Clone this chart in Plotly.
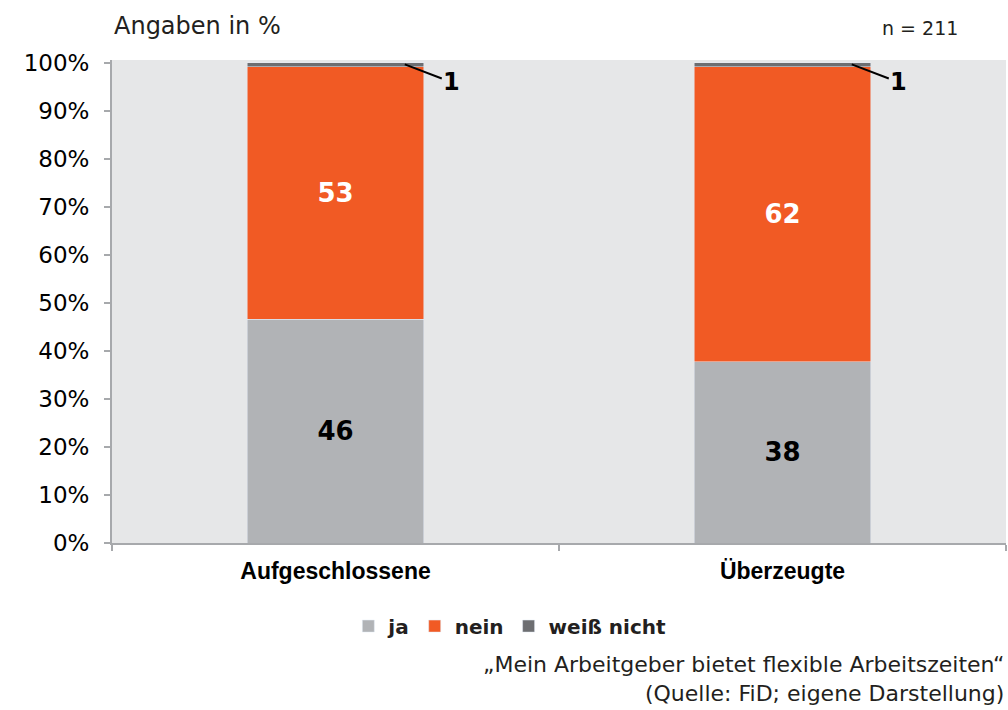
import plotly.graph_objects as go

categories = ["Aufgeschlossene", "Überzeugte"]
ja = [46.6, 37.8]
nein = [52.6, 61.4]
weiss_nicht = [0.8, 0.8]
ja_labels = ["46", "38"]
nein_labels = ["53", "62"]
weiss_labels = ["1", "1"]
y_ticks = [0, 10, 20, 30, 40, 50, 60, 70, 80, 90, 100]
y_tick_labels = ["0%", "10%", "20%", "30%", "40%", "50%", "60%", "70%", "80%", "90%", "100%"]

C_JA = "#B1B3B6"
C_NEIN = "#F15A24"
C_WN = "#6D6E71"
AXIS = "#A7A9AC"

fig = go.Figure()
fig.add_trace(go.Bar(x=categories, y=ja, name="ja", marker_color=C_JA,
                     text=ja_labels, textposition="inside", insidetextanchor="middle",
                     textangle=0,
                     textfont=dict(family="DejaVu Sans", size=26, color="black", weight="bold")))
fig.add_trace(go.Bar(x=categories, y=nein, name="nein", marker_color=C_NEIN,
                     text=nein_labels, textposition="inside", insidetextanchor="middle",
                     textangle=0,
                     textfont=dict(family="DejaVu Sans", size=26, color="white", weight="bold")))
fig.add_trace(go.Bar(x=categories, y=weiss_nicht, name="weiß nicht", marker_color=C_WN,
                     textposition="none"))

for i, c in enumerate(categories):
    fig.add_annotation(x=i + 0.155, y=ja[i] + nein[i] + weiss_nicht[i] - 0.3,
                       xref="x", yref="y", text="<b>" + weiss_labels[i] + "</b>",
                       showarrow=True, arrowhead=0, arrowwidth=2, arrowcolor="black",
                       ax=47, ay=18, standoff=0,
                       font=dict(family="DejaVu Sans", size=24, color="black"))

fig.add_annotation(x=0, y=1.07, xref="paper", yref="paper", xanchor="left", yanchor="middle",
                   text="Angaben in %", showarrow=False,
                   font=dict(family="DejaVu Sans", size=24, color="#231F20"))
fig.add_annotation(x=0.948, y=1.066, xref="paper", yref="paper", xanchor="right", yanchor="middle",
                   text="n = 211", showarrow=False,
                   font=dict(family="DejaVu Sans", size=19, color="#231F20"))
fig.add_annotation(x=1.0, y=-0.282, xref="paper", yref="paper", xanchor="right", yanchor="middle",
                   align="right",
                   text="„Mein Arbeitgeber bietet flexible Arbeitszeiten“<br>(Quelle: FiD; eigene Darstellung)",
                   showarrow=False,
                   font=dict(family="DejaVu Sans", size=22, color="#231F20"))

fig.update_layout(
    width=1008, height=710,
    barmode="stack", bargap=0.605,
    paper_bgcolor="white", plot_bgcolor="#E6E7E8",
    margin=dict(l=112, r=2, t=60, b=167),
    showlegend=True,
    legend=dict(orientation="h", x=0.445, xanchor="center", y=-0.172, yanchor="middle",
                traceorder="normal",
                font=dict(family="DejaVu Sans", size=20, color="#231F20", weight="bold")),
    xaxis=dict(range=[-0.5, 1.5], showline=True, linecolor=AXIS, linewidth=2,
               ticks="outside", tickson="boundaries", ticklen=6, tickcolor=AXIS, tickwidth=2,
               ticklabelstandoff=6,
               tickfont=dict(family="Liberation Sans", size=23, color="black", weight="bold"),
               showgrid=False),
    yaxis=dict(range=[0, 100.6], tickmode="array", tickvals=y_ticks, ticktext=y_tick_labels,
               showline=True, linecolor=AXIS, linewidth=2, ticks="outside", ticklen=6,
               tickcolor=AXIS, tickwidth=2, ticklabelstandoff=10,
               tickfont=dict(family="DejaVu Sans", size=23, color="black"),
               showgrid=False, zeroline=False),
)

fig.write_html("out.html", config={"displayModeBar": False})

with open("out.html", "r", encoding="utf-8") as f:
    html = f.read()
html = html.replace("<head>", "<head><style>html,body{margin:0;padding:0;overflow:hidden;}</style>", 1)
with open("out.html", "w", encoding="utf-8") as f:
    f.write(html)
